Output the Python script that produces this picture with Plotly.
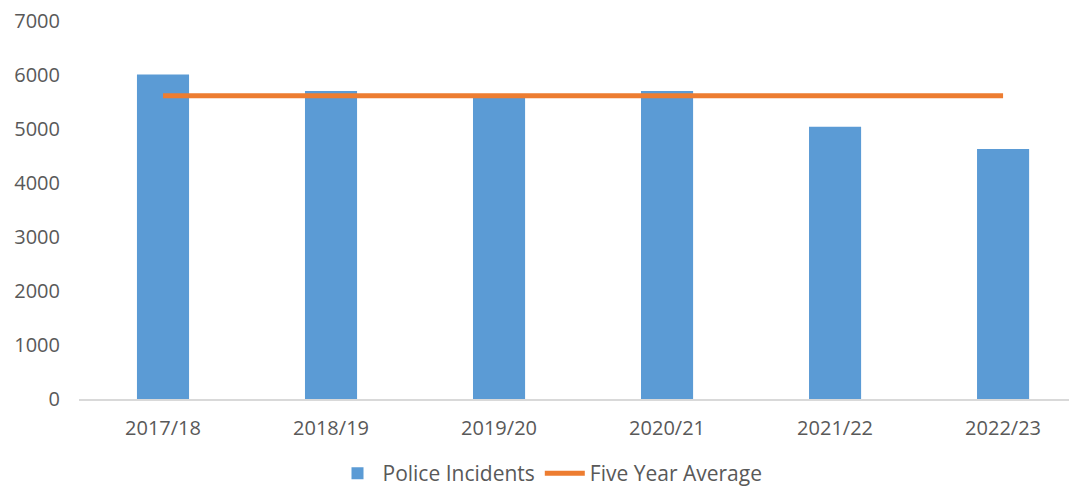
import plotly.graph_objects as go

years = ["2017/18", "2018/19", "2019/20", "2020/21", "2021/22", "2022/23"]
incidents = [6010, 5705, 5620, 5705, 5040, 4630]
five_year_avg = [5615, 5615, 5615, 5615, 5615, 5615]
y_ticks = [0, 1000, 2000, 3000, 4000, 5000, 6000, 7000]

FONT = "Open Sans, Liberation Sans, sans-serif"
GREY = "#595959"

fig = go.Figure()
fig.add_trace(go.Bar(
    x=years, y=incidents, name="Police Incidents",
    marker=dict(color="#5B9BD5", line=dict(width=0)), width=0.31,
))
fig.add_trace(go.Scatter(
    x=years, y=five_year_avg, name="Five Year Average", mode="lines",
    line=dict(color="#ED7D31", width=5),
))

fig.update_layout(
    width=1069, height=483,
    margin=dict(l=71, r=0, t=13, b=92, autoexpand=False),
    plot_bgcolor="white", paper_bgcolor="white",
    font=dict(family=FONT, size=20, color=GREY),
    showlegend=True,
    legend=dict(
        orientation="h", xref="container", yref="container",
        x=(550 - 8) / 1069, xanchor="center", y=0.036, yanchor="middle",
        font=dict(size=21, color=GREY), itemwidth=40,
        traceorder="normal",
    ),
    xaxis=dict(
        range=[-0.5, 5.44], showgrid=False, showline=True, automargin=False,
        linecolor="#D9D9D9", linewidth=1.5, ticks="", ticklabelstandoff=10,
        tickfont=dict(size=20, color=GREY),
    ),
    yaxis=dict(
        range=[0, 7000], tickvals=y_ticks, showgrid=False, zeroline=False,
        showline=False, ticks="", ticklabelstandoff=18, automargin=False,
        ticklabeloverflow="allow",
        tickfont=dict(size=20, color=GREY),
    ),
)

fig.write_html("out.html")
